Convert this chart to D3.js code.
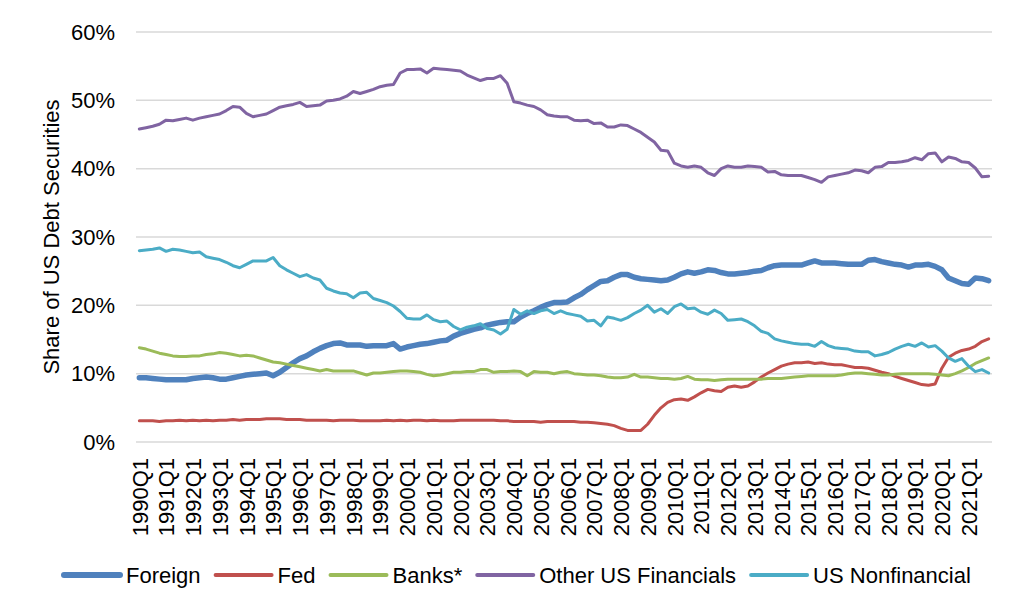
<!DOCTYPE html>
<html>
<head>
<meta charset="utf-8">
<script src="https://cdn.jsdelivr.net/npm/d3@7"></script>
<style>
  body { margin: 0; background: #fff; }
  text { font-family: "Liberation Sans", Arial, sans-serif; fill: #000; }
</style>
</head>
<body>
<div id="chart"></div>
<script>
var svgWidth = 1024;
var svgHeight = 616;

var margin = { top: 32, right: 32, bottom: 174, left: 136 };
var width = svgWidth - margin.left - margin.right;
var height = svgHeight - margin.top - margin.bottom;

// categories: quarters 1990Q1 .. 2021Q4
var years = d3.range(1990, 2022);
var quarters = years.flatMap(y => ["Q1", "Q2", "Q3", "Q4"].map(q => y + q));

var yTicks = [0, 10, 20, 30, 40, 50, 60];

// series values (% share), one per quarter
var foreign = [9.4,9.4,9.3,9.2, 9.1,9.1,9.1,9.1, 9.3,9.4,9.5,9.4, 9.2,9.2,9.4,9.6,
  9.8,9.9,10.0,10.1, 9.7,10.2,10.9,11.6, 12.2,12.6,13.2,13.7, 14.1,14.4,14.5,14.2,
  14.2,14.2,14.0,14.1, 14.1,14.1,14.4,13.6, 13.9,14.1,14.3,14.4, 14.6,14.8,14.9,15.5,
  15.9,16.2,16.5,16.7, 17.1,17.3,17.5,17.6, 17.6,18.3,18.8,19.2, 19.7,20.1,20.4,20.4,
  20.5,21.1,21.6,22.3, 22.9,23.5,23.6,24.1, 24.5,24.5,24.1,23.9, 23.8,23.7,23.6,23.7,
  24.1,24.6,24.9,24.7, 24.9,25.2,25.1,24.8, 24.6,24.6,24.7,24.8, 25.0,25.1,25.5,25.8,
  25.9,25.9,25.9,25.9, 26.2,26.5,26.2,26.2, 26.2,26.1,26.0,26.0, 26.0,26.6,26.7,26.4,
  26.2,26.0,25.9,25.6, 25.9,25.9,26.0,25.7, 25.2,24.0,23.6,23.2, 23.1,24.0,23.9,23.6];

var fed = [3.1,3.1,3.1,3.0, 3.1,3.1,3.2,3.1, 3.2,3.1,3.2,3.1, 3.2,3.2,3.3,3.2,
  3.3,3.3,3.3,3.4, 3.4,3.4,3.3,3.3, 3.3,3.2,3.2,3.2, 3.2,3.1,3.2,3.2,
  3.2,3.1,3.1,3.1, 3.1,3.2,3.1,3.2, 3.1,3.2,3.2,3.1, 3.2,3.1,3.1,3.1,
  3.2,3.2,3.2,3.2, 3.2,3.2,3.1,3.1, 3.0,3.0,3.0,3.0, 2.9,3.0,3.0,3.0,
  3.0,3.0,2.9,2.9, 2.8,2.7,2.6,2.4, 2.0,1.7,1.7,1.7, 2.6,3.9,5.0,5.8,
  6.2,6.3,6.1,6.6, 7.2,7.7,7.5,7.4, 8.0,8.2,8.0,8.2, 8.8,9.5,10.1,10.6,
  11.1,11.4,11.6,11.6, 11.7,11.5,11.6,11.4, 11.3,11.3,11.1,10.9, 10.9,10.8,10.5,10.2,
  10.0,9.6,9.3,9.0, 8.7,8.4,8.3,8.5, 10.8,12.4,13.0,13.4, 13.6,14.0,14.7,15.1];

var banks = [13.8,13.6,13.3,13.0, 12.8,12.6,12.5,12.5, 12.6,12.6,12.8,12.9, 13.1,13.0,12.8,12.6,
  12.7,12.6,12.3,12.0, 11.7,11.6,11.4,11.2, 11.0,10.8,10.6,10.4, 10.6,10.4,10.4,10.4,
  10.4,10.1,9.8,10.1, 10.1,10.2,10.3,10.4, 10.4,10.3,10.2,9.9, 9.7,9.8,10.0,10.2,
  10.2,10.3,10.3,10.6, 10.6,10.2,10.3,10.3, 10.4,10.3,9.7,10.3, 10.2,10.2,10.0,10.2,
  10.3,10.0,9.9,9.8, 9.8,9.7,9.5,9.4, 9.4,9.5,9.9,9.5, 9.5,9.4,9.3,9.3,
  9.2,9.3,9.6,9.2, 9.1,9.1,9.0,9.1, 9.2,9.2,9.2,9.2, 9.2,9.2,9.3,9.3,
  9.3,9.4,9.5,9.6, 9.7,9.7,9.7,9.7, 9.7,9.8,10.0,10.1, 10.1,10.0,9.9,9.8,
  9.8,9.9,10.0,10.0, 10.0,10.0,10.0,9.9, 9.8,9.7,10.0,10.4, 10.9,11.5,11.9,12.3];

var otherFin = [45.8,46.0,46.2,46.5, 47.1,47.0,47.2,47.4, 47.1,47.4,47.6,47.8, 48.0,48.5,49.1,49.0,
  48.1,47.6,47.8,48.0, 48.5,49.0,49.2,49.4, 49.7,49.1,49.2,49.3, 49.9,50.0,50.2,50.6,
  51.3,51.0,51.3,51.6, 52.0,52.2,52.3,54.0, 54.5,54.5,54.6,54.0, 54.7,54.6,54.5,54.4,
  54.3,53.7,53.3,52.9, 53.2,53.2,53.6,52.5, 49.8,49.6,49.3,49.1, 48.6,47.9,47.7,47.6,
  47.6,47.1,47.0,47.1, 46.6,46.7,46.1,46.1, 46.4,46.3,45.8,45.3, 44.6,43.9,42.7,42.6,
  40.8,40.4,40.2,40.4, 40.2,39.4,39.0,40.0, 40.4,40.2,40.2,40.4, 40.3,40.2,39.5,39.6,
  39.1,39.0,39.0,39.0, 38.7,38.4,38.0,38.8, 39.0,39.2,39.4,39.8, 39.7,39.4,40.2,40.3,
  40.9,40.9,41.0,41.2, 41.6,41.3,42.2,42.3, 41.0,41.7,41.5,41.0, 40.9,40.1,38.8,38.9];

var usNonfin = [28.0,28.1,28.2,28.4, 27.9,28.2,28.1,27.9, 27.7,27.8,27.1,26.9, 26.7,26.3,25.8,25.5,
  26.0,26.5,26.5,26.5, 27.0,25.8,25.2,24.7, 24.2,24.5,24.0,23.7, 22.5,22.1,21.8,21.7,
  21.1,21.8,21.9,21.0, 20.7,20.4,19.9,19.1, 18.1,18.0,18.0,18.6, 17.9,17.6,17.7,16.9,
  16.4,16.8,17.0,17.3, 16.6,16.4,15.8,16.5, 19.4,18.7,19.2,18.8, 19.2,19.4,18.8,19.2,
  18.8,18.6,18.4,17.7, 17.8,17.0,18.3,18.1, 17.8,18.2,18.8,19.3, 20.0,19.0,19.5,18.8,
  19.8,20.2,19.5,19.6, 19.0,18.7,19.3,18.8, 17.8,17.9,18.0,17.6, 17.0,16.2,15.9,15.1,
  14.8,14.6,14.4,14.3, 14.3,14.0,14.7,14.1, 13.8,13.7,13.6,13.3, 13.2,13.2,12.6,12.8,
  13.1,13.6,14.0,14.3, 14.0,14.5,13.9,14.1, 13.3,12.3,11.8,12.2, 11.1,10.3,10.6,10.1];

var seriesNames = ["Foreign", "Fed", "Banks*", "Other US Financials", "US Nonfinancial"];
var seriesValues = [foreign, fed, banks, otherFin, usNonfin];
var seriesColors = ["#4F81BD", "#C0504D", "#9BBB59", "#8064A2", "#4BACC6"];
var seriesWidths = [5.5, 3, 3, 3, 3];

var svg = d3.select("#chart")
  .append("svg")
  .attr("width", svgWidth)
  .attr("height", svgHeight);

var chartGroup = svg.append("g")
  .attr("transform", `translate(${margin.left}, ${margin.top})`);

// scales
var xScale = d3.scalePoint()
  .domain(quarters)
  .range([0, width])
  .padding(0.5);

var yScale = d3.scaleLinear()
  .domain([0, 60])
  .range([height, 0]);

// gridlines
chartGroup.append("g")
  .selectAll("line")
  .data(yTicks)
  .enter()
  .append("line")
  .attr("x1", 0)
  .attr("x2", width)
  .attr("y1", d => yScale(d))
  .attr("y2", d => yScale(d))
  .attr("stroke", "#d9d9d9")
  .attr("stroke-width", 1.5);

// y axis
var leftAxis = d3.axisLeft(yScale)
  .tickValues(yTicks)
  .tickSize(0)
  .tickPadding(21)
  .tickFormat(d => d + "%");

var yAxisG = chartGroup.append("g").call(leftAxis);
yAxisG.select(".domain").remove();
yAxisG.selectAll("text")
  .style("font-size", "22px")
  .attr("fill", "#000");

// x axis, label every 4th quarter
var bottomAxis = d3.axisBottom(xScale)
  .tickValues(quarters.filter(q => q.endsWith("Q1")))
  .tickSize(0);

var xAxisG = chartGroup.append("g")
  .attr("transform", `translate(0, ${height})`)
  .call(bottomAxis);
xAxisG.select(".domain").remove();
xAxisG.selectAll("text")
  .style("font-size", "22px")
  .attr("fill", "#000")
  .attr("transform", "rotate(-90)")
  .attr("text-anchor", "end")
  .attr("x", -16)
  .attr("y", 0)
  .attr("dy", "0.35em");

// lines
var line = d3.line()
  .x((d, i) => xScale(quarters[i]))
  .y(d => yScale(d));

chartGroup.selectAll(".series")
  .data(seriesValues)
  .enter()
  .append("path")
  .attr("class", "series")
  .attr("d", d => line(d))
  .attr("fill", "none")
  .attr("stroke", (d, i) => seriesColors[i])
  .attr("stroke-width", (d, i) => seriesWidths[i])
  .attr("stroke-linejoin", "round")
  .attr("stroke-linecap", "round");

// y axis title
svg.append("text")
  .attr("transform", `translate(59, ${margin.top + height / 2}) rotate(-90)`)
  .attr("text-anchor", "middle")
  .style("font-size", "22px")
  .text("Share of US Debt Securities");

// legend
var legend = svg.append("g").attr("transform", "translate(0, 575)");
var lx = 62;
seriesNames.forEach(function(name, i) {
  legend.append("line")
    .attr("x1", lx + 2)
    .attr("x2", lx + 58)
    .attr("y1", 0)
    .attr("y2", 0)
    .attr("stroke", seriesColors[i])
    .attr("stroke-width", i === 0 ? 6 : 4)
    .attr("stroke-linecap", "round");
  var t = legend.append("text")
    .attr("x", lx + 64)
    .attr("y", 0)
    .attr("dy", "0.35em")
    .style("font-size", "22px")
    .text(name);
  lx = lx + 64 + t.node().getComputedTextLength() + 13;
});
</script>
</body>
</html>
